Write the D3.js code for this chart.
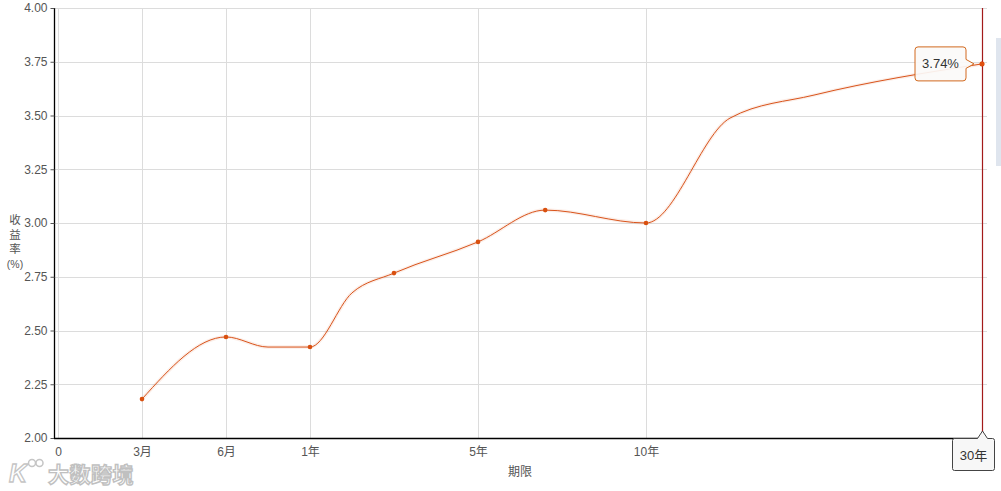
<!DOCTYPE html>
<html>
<head>
<meta charset="utf-8">
<script src="https://cdn.jsdelivr.net/npm/d3@7/dist/d3.min.js"></script>
<style>
  html, body { margin: 0; padding: 0; background: #ffffff; }
  svg { display: block; }
  text { font-family: "Liberation Sans", "Noto Sans CJK SC", sans-serif; }
</style>
</head>
<body>
<svg id="chart" width="1001" height="491"></svg>
<script>
// ---- data ----
const curveTerms  = [0.25, 0.5, 0.75, 1, 2, 3, 5, 7, 10, 15, 20, 30];      // years
const curveYields = [2.181, 2.470, 2.423, 2.423, 2.675, 2.767, 2.912, 3.060, 3.000, 3.488, 3.595, 3.74];
const keyTerms    = [0.25, 0.5, 1, 3, 5, 7, 10, 30];                       // points with markers
const tickTerms   = [0, 0.25, 0.5, 1, 5, 10, 30];
const tickLabels  = ["0", "3月", "6月", "1年", "5年", "10年", "30年"];
const yTicks      = [2.00, 2.25, 2.50, 2.75, 3.00, 3.25, 3.50, 3.75, 4.00];
const hoverTerm   = 30;
const hoverLabel  = "30年";
const yTitleChars = ["收", "益", "率", "(%)"];
const xTitle      = "期限";

// ---- layout ----
const svg = d3.select("#chart");
const plotLeft = 54, plotRight = 987, plotTop = 8, plotBottom = 438;
const x0 = 58, step = 84;
const slots = [0, 1, 2, 3, 5, 7, 11];
const x = d3.scaleLinear().domain(tickTerms).range(slots.map(k => x0 + k * step));
const y = d3.scaleLinear().domain([2, 4]).range([plotBottom, plotTop]);

const lineColor = "#d9541c";
const gridColor = "#dcdcdc";
const textColor = "#555";
const fontStack = "'Liberation Sans', 'Noto Sans CJK SC', sans-serif";

// right-edge faint stripe
svg.append("rect").attr("x", 996).attr("y", 38).attr("width", 5).attr("height", 128)
  .attr("fill", "#dfe5ee");

// horizontal grid
svg.append("g").selectAll("line").data(yTicks).join("line")
  .attr("x1", plotLeft).attr("x2", plotRight)
  .attr("y1", d => Math.round(y(d)) + 0.5).attr("y2", d => Math.round(y(d)) + 0.5)
  .attr("stroke", gridColor).attr("stroke-width", 1);

// vertical grid
svg.append("g").selectAll("line").data(tickTerms).join("line")
  .attr("x1", d => Math.round(x(d)) + 0.5).attr("x2", d => Math.round(x(d)) + 0.5)
  .attr("y1", plotTop).attr("y2", plotBottom)
  .attr("stroke", gridColor).attr("stroke-width", 1);

// y axis
const yAxis = d3.axisLeft(y).tickValues(yTicks).tickFormat(d3.format(".2f")).tickSize(4).tickPadding(3);
const gy = svg.append("g").attr("transform", `translate(${plotLeft + 0.5},0)`).call(yAxis);
gy.select(".domain").attr("stroke", "#000").attr("stroke-width", 1.3).attr("d", `M0,${plotTop}V${plotBottom}`);
gy.selectAll(".tick line").attr("stroke", "#555");
gy.selectAll(".tick text").attr("fill", textColor).attr("font-size", 12)
  .attr("font-family", fontStack);

// x axis (the hovered tick's label is hidden behind the pointer label box, so it is not drawn)
const xAxis = d3.axisBottom(x).tickValues(tickTerms)
  .tickFormat((d, i) => d === hoverTerm ? "" : tickLabels[i]).tickSize(0).tickPadding(9);
const gx = svg.append("g").attr("transform", `translate(0,${plotBottom + 0.5})`).call(xAxis);
gx.select(".domain").attr("stroke", "#000").attr("stroke-width", 1.3).attr("d", `M${plotLeft},0H${plotRight}`);
gx.selectAll(".tick text").attr("fill", textColor).attr("font-size", 12)
  .attr("font-family", fontStack);

// axis titles
svg.append("text").attr("x", 520).attr("y", 476).attr("text-anchor", "middle")
  .attr("font-size", 12).attr("fill", textColor).text(xTitle);
svg.append("g").selectAll("text").data(yTitleChars).join("text")
  .attr("x", 15).attr("y", (d, i) => 224 + i * 14.5).attr("text-anchor", "middle")
  .attr("font-size", d => d.length > 1 ? 10.5 : 11.5).attr("fill", textColor).text(d => d);

// line data
const pts = curveTerms.map((t, i) => ({ t, v: curveYields[i] }));
const line = d3.line().x(d => x(d.t)).y(d => y(d.v)).curve(d3.curveMonotoneX);

// soft glow
svg.append("path").datum(pts).attr("d", line).attr("fill", "none")
  .attr("stroke", lineColor).attr("stroke-opacity", 0.1).attr("stroke-width", 3.5);
svg.append("path").datum(pts).attr("d", line).attr("fill", "none")
  .attr("stroke", lineColor).attr("stroke-width", 1);

// markers
svg.append("g").selectAll("circle").data(pts.filter(d => keyTerms.includes(d.t))).join("circle")
  .attr("cx", d => x(d.t)).attr("cy", d => y(d.v)).attr("r", 2.3)
  .attr("fill", "#d9500f");

// axis pointer (hover) line
const hx = Math.round(x(hoverTerm)) + 0.5;
const hv = curveYields[curveTerms.indexOf(hoverTerm)];
svg.append("line").attr("x1", hx).attr("x2", hx).attr("y1", plotTop).attr("y2", plotBottom)
  .attr("stroke", "#a31a1a").attr("stroke-width", 1.2);

// hover marker (on top)
svg.append("circle").attr("cx", x(hoverTerm)).attr("cy", y(hv)).attr("r", 2.5).attr("fill", "#e0500f");

// tooltip box with arrow pointing right
{
  const px = x(hoverTerm), py = y(hv);
  const bw = 51, bh = 34, r = 3;
  const right = px - 16, left = right - bw, top = py - bh / 2, bottom = py + bh / 2;
  const ah = 4.5, tip = right + 8;
  const p = d3.path();
  p.moveTo(left + r, top);
  p.lineTo(right - r, top);
  p.quadraticCurveTo(right, top, right, top + r);
  p.lineTo(right, py - ah);
  p.lineTo(tip, py);
  p.lineTo(right, py + ah);
  p.lineTo(right, bottom - r);
  p.quadraticCurveTo(right, bottom, right - r, bottom);
  p.lineTo(left + r, bottom);
  p.quadraticCurveTo(left, bottom, left, bottom - r);
  p.lineTo(left, top + r);
  p.quadraticCurveTo(left, top, left + r, top);
  p.closePath();
  svg.append("path").attr("d", p.toString()).attr("fill", "#fbfaf9").attr("fill-opacity", 0.92)
    .attr("stroke", "#d2691e").attr("stroke-width", 1);
  svg.append("text").attr("x", (left + right) / 2).attr("y", py + 4.5).attr("text-anchor", "middle")
    .attr("font-size", 13).attr("fill", "#333").text(d3.format(".2f")(hv) + "%");
}

// axis pointer label box with arrow pointing up
{
  const px = Math.round(x(hoverTerm)) + 0.5;
  const left = 952.5, right = 994.5, top = 438.5, bottom = 470.5, r = 2;
  const tipY = 431, ah = 5;
  const p = d3.path();
  p.moveTo(left + r, top);
  p.lineTo(px - ah, top);
  p.lineTo(px, tipY);
  p.lineTo(px + ah, top);
  p.lineTo(right - r, top);
  p.quadraticCurveTo(right, top, right, top + r);
  p.lineTo(right, bottom - r);
  p.quadraticCurveTo(right, bottom, right - r, bottom);
  p.lineTo(left + r, bottom);
  p.quadraticCurveTo(left, bottom, left, bottom - r);
  p.lineTo(left, top + r);
  p.quadraticCurveTo(left, top, left + r, top);
  p.closePath();
  svg.append("path").attr("d", p.toString()).attr("fill", "#f7f7f7")
    .attr("stroke", "#444").attr("stroke-width", 1);
  svg.append("text").attr("x", (left + right) / 2).attr("y", 460).attr("text-anchor", "middle")
    .attr("font-size", 13).attr("fill", "#333").text(hoverLabel);
}

// watermark
{
  const wm = svg.append("g").attr("opacity", 0.95);
  wm.append("text").attr("x", 9).attr("y", 482).attr("font-size", 25).attr("font-weight", "bold")
    .attr("font-style", "italic").attr("fill", "#fff").attr("stroke", "#c2c2c2").attr("stroke-width", 1.3)
    .text("K");
  wm.append("circle").attr("cx", 32).attr("cy", 463).attr("r", 3.5).attr("fill", "#fff").attr("stroke", "#c2c2c2").attr("stroke-width", 1.5);
  wm.append("circle").attr("cx", 39.5).attr("cy", 463).attr("r", 3.5).attr("fill", "#fff").attr("stroke", "#c2c2c2").attr("stroke-width", 1.5);
  wm.append("text").attr("x", 48).attr("y", 482).attr("font-size", 21).attr("font-weight", "bold")
    .attr("font-family", "'Noto Sans CJK SC', sans-serif")
    .attr("fill", "#fff").attr("stroke", "#bdbdbd").attr("stroke-width", 1.4).attr("letter-spacing", 0.5)
    .text("大数跨境");
}
</script>
</body>
</html>
